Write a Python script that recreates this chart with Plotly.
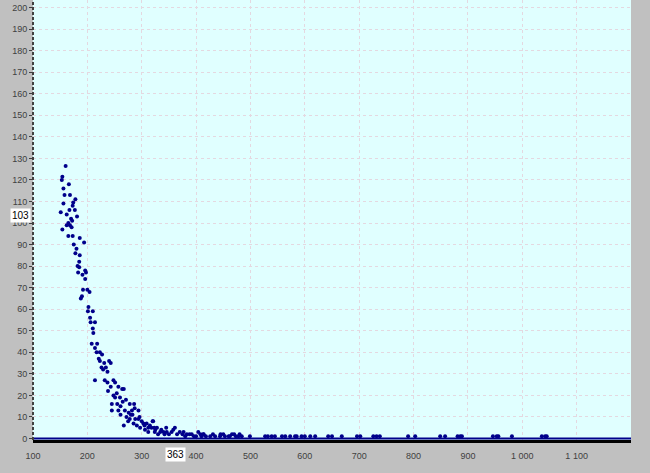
import plotly.graph_objects as go

# ---- data ----
size_x = [160, 154, 153, 166, 156, 158, 168, 178, 156, 174, 173, 167, 177, 151, 162, 181, 170, 172, 165, 162,
          168, 171, 154, 165, 173, 186, 194, 175, 180, 178, 186, 185, 182, 185, 183, 196, 197.5, 191, 196, 192,
          200, 204, 190, 188, 202, 201, 210, 205,
          206, 214, 210, 211, 208, 218, 214, 217, 223, 227, 221, 223, 231, 240, 243, 234, 226, 229, 237, 214,
          232, 237, 248, 251, 243, 257, 238, 248, 254, 251, 260, 264, 267, 271, 245, 255, 261, 278, 286, 245,
          257, 269, 282, 294, 261, 272, 283, 267, 275, 278, 285, 291, 294, 300, 303, 309, 320, 315, 297, 306,
          318, 328, 312, 324, 334, 340, 346, 358, 361, 370, 383, 392, 404, 413, 426, 435,
          265, 276, 280, 287, 288, 296, 305, 312, 321, 323, 325, 330, 336, 342, 345, 350, 355, 365, 375, 377,
          380, 388, 396, 400, 408, 414, 418, 431, 445, 450, 460, 466, 470, 480,
          410, 444, 453, 462, 473, 478, 484, 499, 527, 532, 539, 545, 558, 564, 573, 582, 585, 594, 600, 610,
          619, 643, 650, 668, 696, 702, 726, 732, 738, 790, 803, 849, 858, 881, 886, 889, 946, 953, 956, 981,
          1036, 1042, 1045]
count_y = [126.5, 121.5, 120, 118, 116, 113, 113, 111, 109, 109.5, 108, 106, 106, 105, 104, 103, 102, 101, 100, 99,
           99, 98, 97, 94, 94, 93, 91, 90, 88, 86, 85, 82, 80, 79.5, 77, 78, 77, 76, 74, 69,
           69, 68, 66, 65, 61, 59, 59, 56,
           54, 54, 51, 49, 44, 44, 42, 40, 40, 39, 37, 36, 35, 36, 35, 33, 33, 32, 31, 27,
           27, 26, 27, 26, 24, 24, 22, 20, 21, 19, 19, 23, 23, 18, 16, 16, 15, 16, 16, 13,
           13, 13, 13, 13, 11, 10, 11, 6, 8, 9, 7, 6, 9, 8, 7, 7, 8, 6, 5, 4,
           5, 5, 3, 3, 3, 3, 3, 4, 5, 3, 2, 2, 3, 2, 1, 1,
           17, 12, 11, 14, 9, 10, 6, 5, 8, 5, 4, 2, 4, 2, 5, 2, 3, 2, 2, 3,
           1, 2, 1, 1, 2, 2, 1, 2, 2, 2, 1, 2, 2, 2,
           1, 1, 1, 1, 1, 1, 1, 1, 1, 1, 1, 1, 1, 1, 1, 1, 1, 1, 1, 1,
           1, 1, 1, 1, 1, 1, 1, 1, 1, 1, 1, 1, 1, 1, 1, 1, 1, 1, 1, 1,
           1, 1, 1]

baseline_x = [100, 1200]
baseline_y = [0, 0]

x_tick_vals = [100, 200, 300, 400, 500, 600, 700, 800, 900, 1000, 1100]
x_tick_text = ["100", "200", "300", "400", "500", "600", "700", "800", "900", "1 000", "1 100"]
y_tick_vals = [0, 10, 20, 30, 40, 50, 60, 70, 80, 90, 100, 110, 120, 130, 140, 150, 160, 170, 180, 190, 200]
y_tick_text = [str(v) for v in y_tick_vals]

cursor_x = 363
cursor_y = 103

FONT = "Liberation Sans Narrow, Arial Narrow, Arial, sans-serif"
NAVY = "#00008b"
GRID = "#e4d8e0"

fig = go.Figure()
fig.add_trace(go.Scatter(x=baseline_x, y=baseline_y, mode="lines",
                         line=dict(color=NAVY, width=2), hoverinfo="skip", showlegend=False))
fig.add_trace(go.Scatter(x=size_x, y=count_y, mode="markers",
                         marker=dict(color=NAVY, size=4, line=dict(width=0)), showlegend=False))

fig.update_layout(
    width=650, height=473,
    margin=dict(l=33, r=19, t=0, b=33, pad=0),
    paper_bgcolor="#c0c0c0",
    plot_bgcolor="#e0ffff",
    font=dict(family=FONT, size=9, color="#404040"),
    showlegend=False,
)
fig.update_xaxes(
    range=[100, 1200], tickmode="array", tickvals=x_tick_vals, ticktext=x_tick_text,
    showgrid=True, gridcolor=GRID, griddash="3px,3px", gridwidth=1,
    showline=True, linecolor="black", linewidth=3,
    ticks="outside", ticklen=5, tickcolor="rgba(0,0,0,0)",
    zeroline=False, tickfont=dict(family=FONT, size=9, color="#404040"),
)
fig.update_yaxes(
    range=[-0.7, 203.5], tickmode="array", tickvals=y_tick_vals, ticktext=y_tick_text,
    showgrid=True, gridcolor=GRID, griddash="3px,3px", gridwidth=1,
    showline=False, ticks="outside", ticklen=3, tickcolor="#404040",
    zeroline=False, tickfont=dict(family=FONT, size=9, color="#404040"),
)
fig.add_shape(type="line", xref="paper", yref="paper", x0=0, x1=0, y0=0, y1=1,
              line=dict(color="#404040", width=2, dash="3px,2px"))
fig.add_annotation(xref="paper", x=0, yref="y", y=cursor_y, text=str(cursor_y),
                   showarrow=False, xanchor="right", xshift=-2, yshift=1, bgcolor="white",
                   font=dict(family=FONT, size=10, color="black"), borderpad=1)
fig.add_annotation(xref="x", x=cursor_x, yref="paper", y=0, text=str(cursor_x),
                   showarrow=False, yanchor="top", yshift=-7, bgcolor="white",
                   font=dict(family=FONT, size=10, color="black"), borderpad=1)

fig.write_html("out.html")
